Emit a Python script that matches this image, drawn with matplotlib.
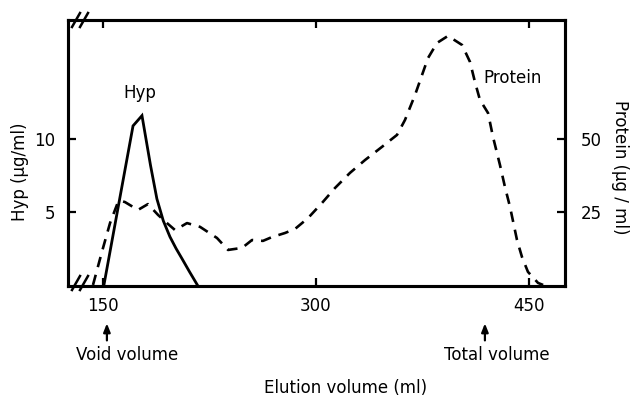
import matplotlib
matplotlib.use("Agg")
import matplotlib.pyplot as plt

# Data
hyp_vol = [150.7, 171.2, 177.5, 183.5, 188.0, 192.5, 197.2, 201.5, 205.7, 211.0, 216.5]
hyp_val = [0.0, 10.9, 11.6, 8.2, 5.9, 4.4, 3.3, 2.5, 1.8, 0.9, 0.0]

prot_vol = [143, 149.1, 155, 160.6, 162, 165.5, 174.7, 181.7, 188.8, 195.1, 200.8,
            209.2, 218.4, 230.3, 238.1, 248, 255, 262.7, 269, 278.2, 285.3, 294.4,
            304.3, 313.4, 324, 334.6, 346.5, 357.1, 362.7, 369.8, 378.9, 385.3, 393,
            402.9, 408.5, 412, 415.5, 421.2, 424.7, 429.6, 433.1, 436.7, 441.6,
            445.1, 449.3, 456.4, 460]
prot_val = [0, 11, 21.2, 28.4, 28.9, 28.4, 25.7, 27.7, 24, 21.2, 18.8,
            21.2, 19.9, 16.1, 12, 12.7, 15.4, 15.1, 16.4, 17.8, 19.2, 22.9,
            28.1, 33.2, 38.4, 42.8, 47.3, 51.4, 56.5, 65.1, 77.7, 82.9, 85.3,
            82.2, 76.4, 69.5, 63.4, 58.9, 50.7, 41.1, 33.6, 26.7, 15.4,
            9.6, 4.5, 0.7, 0]

x_ticks = [150, 300, 450]
hyp_ticks = [5, 10]
prot_ticks = [25, 50]
void_volume = 152.8
total_volume = 419

W, H = 633, 401
fig = plt.figure(figsize=(W / 100, H / 100), dpi=100)
ax = fig.add_axes([68 / W, 1 - 286 / H, (565 - 68) / W, (286 - 20) / H])
ax2 = ax.twinx()

FS = 12
lw_axis = 2.2

ax.plot(hyp_vol, hyp_val, color="black", lw=2.0, solid_joinstyle="miter")
ax2.plot(prot_vol, prot_val, color="black", lw=1.9, linestyle=(0, (4, 3)))

ax.set_xlim(125.4, 475.4)
ax.set_ylim(-0.07, 18.15)
ax2.set_ylim(-0.35, 90.75)

ax.set_xticks(x_ticks)
ax.set_xticklabels([str(v) for v in x_ticks], fontsize=FS)
ax.set_yticks(hyp_ticks)
ax.set_yticklabels([str(v) for v in hyp_ticks], fontsize=FS)
ax2.set_yticks(prot_ticks)
ax2.set_yticklabels([str(v) for v in prot_ticks], fontsize=FS)

ax.tick_params(axis="x", direction="in", length=6, width=1.6, top=True, pad=8)
ax.tick_params(axis="y", direction="in", length=6, width=1.6, pad=9)
ax2.tick_params(axis="y", direction="in", length=6, width=1.6, pad=11)

for a in (ax, ax2):
    for s in a.spines.values():
        s.set_linewidth(lw_axis)

# axis break marks
def slash(xp, yp):
    for dx in (0, 8):
        fig.add_artist(plt.Line2D([(xp + dx - 4) / W, (xp + dx + 4) / W],
                                  [1 - (yp + 7) / H, 1 - (yp - 7) / H],
                                  color="black", lw=1.8))

slash(76, 20)
slash(76, 283)

# labels
fig.text(20 / W, 1 - 172 / H, "Hyp (μg/ml)", rotation=90, ha="center", va="center", fontsize=FS)
fig.text(620 / W, 1 - 167 / H, "Protein (μg / ml)", rotation=270, ha="center", va="center", fontsize=FS)
fig.text(346 / W, 1 - 388 / H, "Elution volume (ml)", ha="center", va="center", fontsize=FS)

ax.text(176.1, 13.15, "Hyp", ha="center", va="center", fontsize=FS)
ax.text(438.8, 14.2, "Protein", ha="center", va="center", fontsize=FS)

# arrows for void/total volume
for xv, label, xt in ((void_volume, "Void volume", 127.5), (total_volume, "Total volume", 497)):
    ax.annotate("", xy=(xv, -0.13), xytext=(xv, -0.215),
                xycoords=("data", "axes fraction"), textcoords=("data", "axes fraction"),
                arrowprops=dict(arrowstyle="-|>,head_length=0.5,head_width=0.2", color="black", lw=1.6),
                annotation_clip=False)
    fig.text(xt / W, 1 - 355 / H, label, ha="center", va="center", fontsize=FS)

fig.savefig("out.png", dpi=100)
